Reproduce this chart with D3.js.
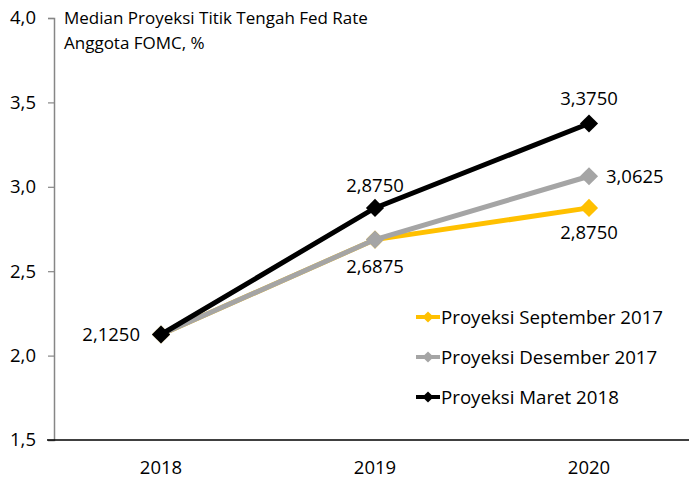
<!DOCTYPE html>
<html>
<head>
<meta charset="utf-8">
<script src="https://cdn.jsdelivr.net/npm/d3@7"></script>
<style>
  body { margin: 0; background: #fff; }
  text { font-family: "Open Sans", "Noto Sans", sans-serif; fill: #000; }
</style>
</head>
<body>
<svg id="chart" width="689" height="479"></svg>
<script>
// Data
const years = ["2018", "2019", "2020"];
const sepValues = [2.125, 2.6875, 2.875];
const desValues = [2.125, 2.6875, 3.0625];
const marValues = [2.125, 2.875, 3.375];
const seriesNames = ["Proyeksi September 2017", "Proyeksi Desember 2017", "Proyeksi Maret 2018"];
const yTicks = [1.5, 2.0, 2.5, 3.0, 3.5, 4.0];

const svg = d3.select("#chart");
const colors = ["#FFC000", "#A5A5A5", "#000000"];
const series = [sepValues, desValues, marValues].map((v, i) => ({
  name: seriesNames[i], color: colors[i],
  points: v.map((d, j) => ({ year: years[j], value: d }))
}));

// Scales
const x = d3.scalePoint().domain(years).range([161, 589]);
const y = d3.scaleLinear().domain([1.5, 4.0]).range([440, 18]);
const fmt = d => d3.format(".1f")(d).replace(".", ",");
const fmt4 = d => d3.format(".4f")(d).replace(".", ",");

// Y axis
const yAxis = svg.append("g")
  .attr("transform", "translate(54,0)")
  .call(d3.axisLeft(y).tickValues(yTicks).tickFormat(fmt).tickSize(6).tickPadding(12));
yAxis.select(".domain").attr("stroke", "#868686").attr("stroke-width", 1.5);
yAxis.selectAll(".tick line").attr("stroke", "#868686").attr("stroke-width", 1.2);
yAxis.selectAll("text").style("font-size", "18.5px").style("font-family", "Open Sans");

// X axis
svg.append("line")
  .attr("x1", 47).attr("x2", 689)
  .attr("y1", y(1.5)).attr("y2", y(1.5))
  .attr("stroke", "#000").attr("stroke-width", 1.3);
svg.selectAll(".xlab").data(years).enter().append("text")
  .attr("x", d => x(d)).attr("y", 474)
  .attr("text-anchor", "middle")
  .style("font-size", "18.5px")
  .text(d => d);

// Title
svg.append("text").attr("x", 64).attr("y", 24).style("font-size", "17px")
  .text("Median Proyeksi Titik Tengah Fed Rate");
svg.append("text").attr("x", 64).attr("y", 49).style("font-size", "17px")
  .text("Anggota FOMC, %");

// Lines
const line = d3.line().x(d => x(d.year)).y(d => y(d.value));
const diamond = d3.symbol().type(d3.symbolDiamond2).size(210);

const sg = svg.selectAll(".series").data(series).enter().append("g");
sg.append("path")
  .attr("d", d => line(d.points))
  .attr("fill", "none")
  .attr("stroke", d => d.color)
  .attr("stroke-width", 5);
sg.each(function(s) {
  d3.select(this).selectAll("path.mk").data(s.points).enter().append("path")
    .attr("class", "mk")
    .attr("transform", d => `translate(${x(d.year)},${y(d.value)})`)
    .attr("d", diamond)
    .attr("fill", s.color);
});

// Data labels
const labels = [
  { year: "2018", value: marValues[0], dx: -21, dy: 6.5, anchor: "end" },
  { year: "2019", value: marValues[1], dx: 0, dy: -16, anchor: "middle" },
  { year: "2019", value: desValues[1], dx: 0, dy: 33, anchor: "middle" },
  { year: "2020", value: marValues[2], dx: 0, dy: -19, anchor: "middle" },
  { year: "2020", value: desValues[2], dx: 17, dy: 6.5, anchor: "start" },
  { year: "2020", value: sepValues[2], dx: 0, dy: 31, anchor: "middle" }
];
svg.selectAll(".dlab").data(labels).enter().append("text")
  .attr("x", d => x(d.year) + d.dx)
  .attr("y", d => y(d.value) + d.dy)
  .attr("text-anchor", d => d.anchor)
  .style("font-size", "18.5px")
  .text(d => fmt4(d.value));

// Legend
const lg = svg.selectAll(".leg").data(series).enter().append("g")
  .attr("transform", (d, i) => `translate(416,${317 + i * 40})`);
lg.append("line").attr("x1", 0).attr("x2", 24)
  .attr("stroke", d => d.color).attr("stroke-width", 4);
lg.append("path").attr("transform", "translate(12,0)")
  .attr("d", d3.symbol().type(d3.symbolDiamond2).size(80))
  .attr("fill", d => d.color);
lg.append("text").attr("x", 25).attr("y", 6.5)
  .style("font-size", "18.7px")
  .text(d => d.name);
</script>
</body>
</html>
